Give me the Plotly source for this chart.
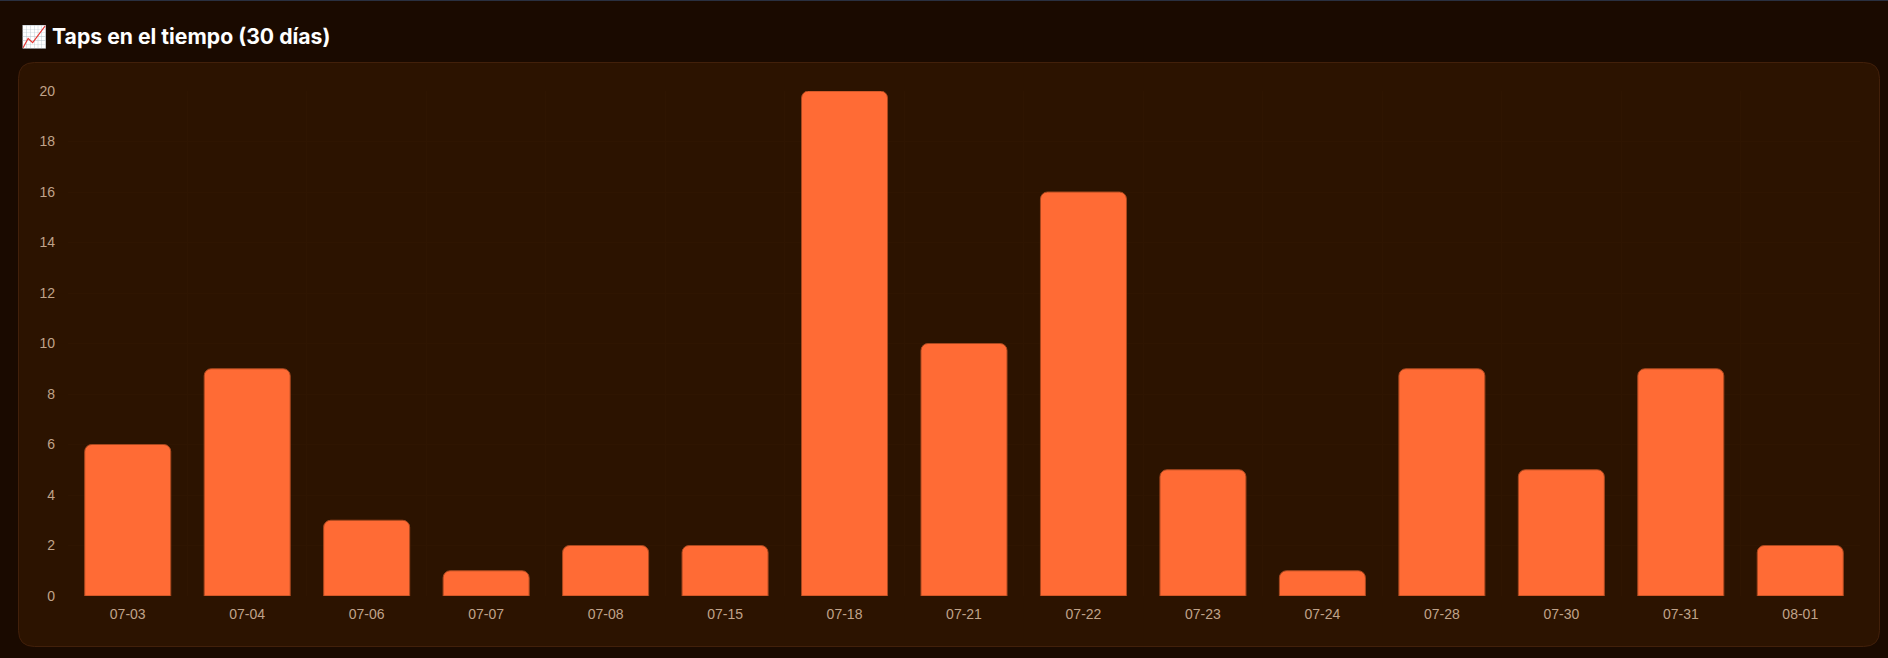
import plotly.graph_objs as go

fechas = ['07-03', '07-04', '07-06', '07-07', '07-08', '07-15', '07-18', '07-21',
          '07-22', '07-23', '07-24', '07-28', '07-30', '07-31', '08-01']
taps = [6, 9, 3, 1, 2, 2, 20, 10, 16, 5, 1, 9, 5, 9, 2]
y_ticks = list(range(0, 21, 2))
titulo = '📈 Taps en el tiempo (30 días)'

W, H = 1888, 658
# margins of the plot area, in pixels
L, R, T, B = 68, 28, 91, 62


def px(v):
    return (v - L) / (W - L - R)


def py(v):
    return (H - B - v) / (H - T - B)


def card_path(x0, y0, x1, y1, r):
    """Rounded card, pixels converted to paper coords"""
    return (f'M {px(x0 + r)} {py(y0)} L {px(x1 - r)} {py(y0)} '
            f'Q {px(x1)} {py(y0)} {px(x1)} {py(y0 + r)} '
            f'L {px(x1)} {py(y1 - r)} Q {px(x1)} {py(y1)} {px(x1 - r)} {py(y1)} '
            f'L {px(x0 + r)} {py(y1)} Q {px(x0)} {py(y1)} {px(x0)} {py(y1 - r)} '
            f'L {px(x0)} {py(y0 + r)} Q {px(x0)} {py(y0)} {px(x0 + r)} {py(y0)} Z')


fig = go.Figure()
fig.add_trace(go.Bar(
    x=fechas, y=taps, width=0.72,
    marker=dict(color='#ff6b35', line=dict(color='#a8481f', width=1)),
    hoverinfo='x+y',
))

fig.update_layout(
    width=W, height=H,
    margin=dict(l=L, r=R, t=T, b=B, pad=0),
    paper_bgcolor='#1a0a00',
    plot_bgcolor='rgba(0,0,0,0)',
    showlegend=False,
    barcornerradius=7,
    font=dict(family='Liberation Sans, Arial, sans-serif', size=14, color='#c0a38a'),
    shapes=[
        dict(type='path', xref='paper', yref='paper', layer='below',
             path=card_path(18.5, 62.5, 1879.5, 646.5, 16),
             fillcolor='#2c1300', line=dict(color='#42200a', width=1)),
        dict(type='rect', xref='paper', yref='paper', layer='below',
             x0=px(0), x1=px(W), y0=py(1), y1=py(0), fillcolor='#2a3040', line=dict(width=0)),
    ],
    annotations=[dict(
        text=titulo, xref='paper', yref='paper', x=px(19), y=py(36),
        xanchor='left', yanchor='middle', showarrow=False,
        font=dict(family='Inter, Noto Sans, sans-serif', size=21.2, color='#ffffff', weight=700),
    )],
)
fig.update_xaxes(
    type='category', categoryorder='array', categoryarray=fechas,
    showline=False, zeroline=False, ticks='', ticklen=0,
    showgrid=True, gridcolor='#2f1501', gridwidth=1,
    tickson='boundaries', ticklabelstandoff=8,
)
fig.update_yaxes(
    range=[0, 20], tickvals=y_ticks, showline=False, zeroline=False, ticks='',
    showgrid=True, gridcolor='#2f1501', gridwidth=1, ticklabelstandoff=12,
)

fig.write_html('out.html', config={'displayModeBar': False},
               post_script="document.body.style.margin='0';document.body.style.overflow='hidden';document.body.style.background='#1a0a00';")
